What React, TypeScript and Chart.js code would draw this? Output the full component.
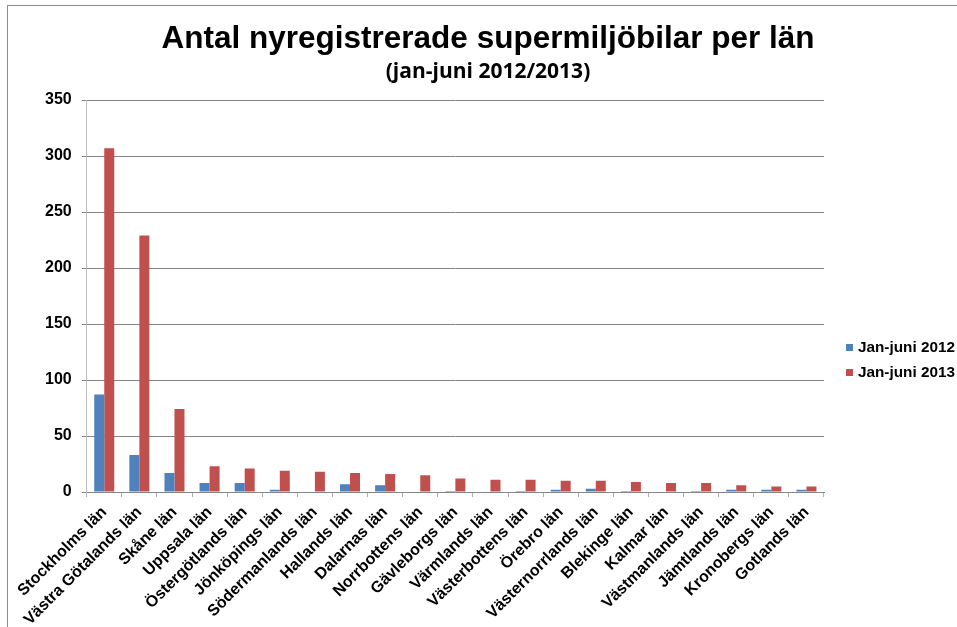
import React, { useEffect, useRef } from "react";
import { Chart, registerables } from "chart.js";

Chart.register(...registerables);

const categories = [
  "Stockholms län",
  "Västra Götalands län",
  "Skåne län",
  "Uppsala län",
  "Östergötlands län",
  "Jönköpings län",
  "Södermanlands län",
  "Hallands län",
  "Dalarnas län",
  "Norrbottens län",
  "Gävleborgs län",
  "Värmlands län",
  "Västerbottens län",
  "Örebro län",
  "Västernorrlands län",
  "Blekinge län",
  "Kalmar län",
  "Västmanlands län",
  "Jämtlands län",
  "Kronobergs län",
  "Gotlands län",
];

const series2012 = [87, 33, 17, 8, 8, 2, 0, 7, 6, 0, 1, 0, 1, 2, 3, 1, 0, 1, 2, 2, 2];
const series2013 = [307, 229, 74, 23, 21, 19, 18, 17, 16, 15, 12, 11, 11, 10, 10, 9, 8, 8, 6, 5, 5];

const seriesLabels = ["Jan-juni 2012", "Jan-juni 2013"];
const seriesColors = ["#4F81BD", "#C0504D"];

const titleText = "Antal nyregistrerade supermiljöbilar per län";
const subtitleText = "(jan-juni 2012/2013)";

const yMax = 350;
const yStep = 50;

const FONT = "'Liberation Sans', Arial, sans-serif";

export default function App() {
  const canvasRef = useRef<HTMLCanvasElement | null>(null);

  useEffect(() => {
    const canvas = canvasRef.current;
    if (!canvas) return;
    const chart = new Chart(canvas, {
      type: "bar",
      data: {
        labels: categories,
        datasets: [
          {
            label: seriesLabels[0],
            data: series2012,
            backgroundColor: seriesColors[0],
            categoryPercentage: 0.57,
            barPercentage: 1,
          },
          {
            label: seriesLabels[1],
            data: series2013,
            backgroundColor: seriesColors[1],
            categoryPercentage: 0.57,
            barPercentage: 1,
          },
        ],
      },
      options: {
        responsive: false,
        animation: false,
        layout: {
          autoPadding: false,
          padding: { left: 35, right: 16, top: 0, bottom: 3 },
        },
        plugins: {
          legend: { display: false },
          tooltip: { enabled: false },
          title: {
            display: true,
            text: titleText,
            color: "#000",
            font: { family: FONT, size: 31.5, weight: "bold" },
            padding: { top: 20, bottom: 0 },
          },
          subtitle: {
            display: true,
            text: subtitleText,
            color: "#000",
            font: { family: "'Open Sans', sans-serif", size: 21, weight: "bold" },
            padding: { top: 2, bottom: 15 },
          },
        },
        scales: {
          x: {
            offset: true,
            grid: {
              display: true,
              offset: true,
              drawOnChartArea: false,
              drawTicks: true,
              tickLength: 5,
              color: "#b0b0b0",
            },
            border: { display: true, color: "#868686", width: 1 },
            ticks: {
              autoSkip: false,
              minRotation: 45,
              maxRotation: 45,
              padding: 6,
              color: "#000",
              font: { family: FONT, size: 16, weight: "bold" },
            },
            afterFit: (s: any) => {
              s.height = 132;
            },
          },
          y: {
            min: 0,
            max: yMax,
            grid: {
              color: "#868686",
              tickLength: 5,
              drawTicks: true,
            },
            border: { display: true, color: "#c0c0c0", width: 1 },
            ticks: {
              stepSize: yStep,
              padding: 10,
              color: "#000",
              font: { family: FONT, size: 16, weight: "bold" },
            },
          },
          yRight: {
            position: "right",
            display: true,
            grid: { display: false },
            border: { display: false },
            ticks: { display: false },
            afterFit: (s: any) => {
              s.width = 117;
            },
          },
        },
      },
    });
    return () => chart.destroy();
  }, []);

  return (
    <div
      style={{
        position: "fixed",
        left: 0,
        top: 0,
        width: 957,
        height: 627,
        background: "#fff",
        overflow: "hidden",
      }}
    >
      <div
        style={{
          position: "absolute",
          left: 7,
          top: 5,
          width: 1000,
          height: 1000,
          border: "1px solid #8c8c8c",
        }}
      />
      <canvas
        ref={canvasRef}
        width={957}
        height={627}
        style={{ position: "absolute", left: 0, top: 0 }}
      />
      {seriesLabels.map((label, i) => (
        <div
          key={label}
          style={{
            position: "absolute",
            left: 846,
            top: 338 + i * 25,
            height: 18,
            display: "flex",
            alignItems: "center",
            fontFamily: FONT,
            fontWeight: "bold",
            fontSize: 15.3,
            color: "#000",
            whiteSpace: "nowrap",
          }}
        >
          <span
            style={{
              display: "inline-block",
              width: 7,
              height: 7,
              background: seriesColors[i],
              marginRight: 5,
            }}
          />
          {label}
        </div>
      ))}
    </div>
  );
}
